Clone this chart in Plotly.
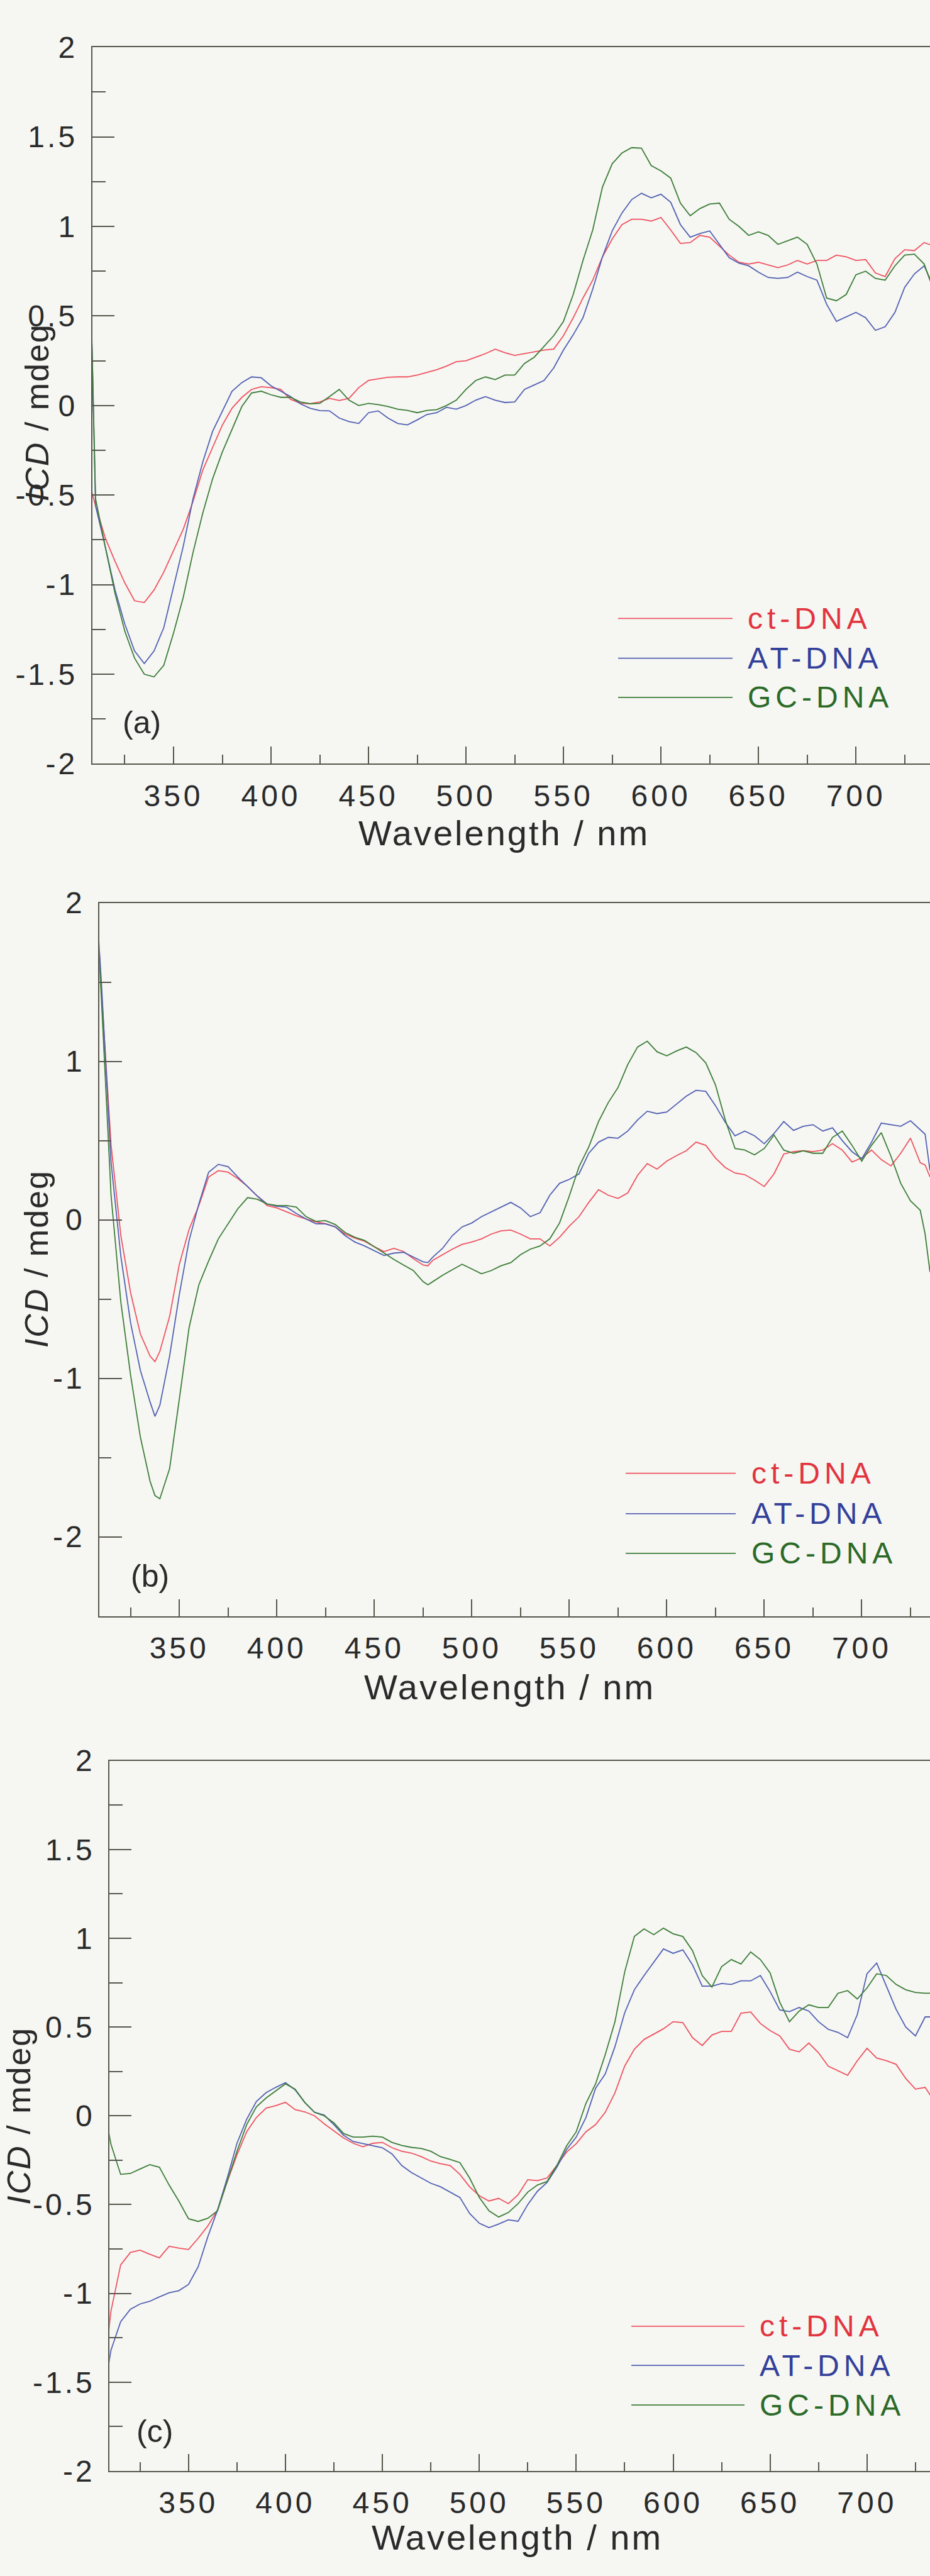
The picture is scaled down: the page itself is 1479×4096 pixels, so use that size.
import plotly.graph_objects as go

# ---------------------------------------------------------------------------
# CD spectra (mdeg) of the complex with ct-DNA, AT-DNA and GC-DNA, panels a-c
# ---------------------------------------------------------------------------
WL_A = [308] + list(range(310, 736, 5)) + [740]
CT_A = [-0.48, -0.56, -0.74, -0.87, -0.99, -1.09, -1.10, -1.03, -0.93, -0.81,
        -0.69, -0.535, -0.36, -0.235, -0.11, -0.015, 0.045, 0.09, 0.105, 0.10,
        0.09, 0.035, 0.013, 0.01, 0.02, 0.04, 0.028, 0.04, 0.10, 0.14,
        0.15, 0.158, 0.16, 0.16, 0.17, 0.185, 0.20, 0.22, 0.245, 0.25,
        0.27, 0.29, 0.315, 0.295, 0.28, 0.29, 0.30, 0.31, 0.315, 0.39,
        0.49, 0.60, 0.70, 0.83, 0.93, 1.01, 1.04, 1.04, 1.03, 1.05,
        0.98, 0.905, 0.91, 0.95, 0.94, 0.89, 0.84, 0.80, 0.79, 0.80,
        0.785, 0.77, 0.785, 0.81, 0.79, 0.81, 0.81, 0.84, 0.83, 0.81,
        0.815, 0.74, 0.72, 0.82, 0.87, 0.865, 0.91, 0.89]
AT_A = [0.40, -0.56, -0.79, -1.03, -1.22, -1.37, -1.44, -1.37, -1.24, -1.01,
        -0.785, -0.52, -0.315, -0.145, -0.035, 0.08, 0.128, 0.16, 0.155, 0.11,
        0.08, 0.05, 0.01, -0.015, -0.028, -0.03, -0.07, -0.09, -0.10, -0.04,
        -0.03, -0.07, -0.10, -0.108, -0.08, -0.05, -0.04, -0.01, -0.02, 0.0,
        0.03, 0.05, 0.03, 0.017, 0.02, 0.09, 0.115, 0.14, 0.21, 0.31,
        0.395, 0.49, 0.65, 0.83, 0.975, 1.075, 1.15, 1.185, 1.16, 1.18,
        1.135, 1.01, 0.94, 0.96, 0.975, 0.90, 0.825, 0.795, 0.78, 0.745,
        0.715, 0.71, 0.715, 0.745, 0.72, 0.70, 0.565, 0.47, 0.495, 0.52,
        0.49, 0.42, 0.44, 0.52, 0.66, 0.735, 0.78, 0.66]
GC_A = [0.42, -0.52, -0.79, -1.05, -1.26, -1.41, -1.50, -1.515, -1.45, -1.27,
        -1.07, -0.82, -0.60, -0.41, -0.26, -0.13, -0.006, 0.07, 0.08, 0.06,
        0.046, 0.046, 0.02, 0.01, 0.012, 0.05, 0.09, 0.03, 0.0, 0.012,
        0.005, -0.005, -0.02, -0.027, -0.04, -0.027, -0.023, 0.0, 0.03, 0.09,
        0.14, 0.16, 0.145, 0.17, 0.17, 0.235, 0.27, 0.33, 0.39, 0.47,
        0.62, 0.81, 0.98, 1.22, 1.35, 1.41, 1.44, 1.437, 1.34, 1.31,
        1.27, 1.13, 1.06, 1.10, 1.125, 1.13, 1.04, 1.0, 0.95, 0.97,
        0.95, 0.90, 0.92, 0.94, 0.90, 0.79, 0.60, 0.585, 0.62, 0.73,
        0.75, 0.71, 0.70, 0.78, 0.84, 0.845, 0.79, 0.64]

WL_B = sorted(list(range(310, 736, 5)) + [308, 337.5, 477.5, 732.5])
CT_B = [1.90, 1.45, 0.47, -0.10, -0.46, -0.72, -0.86, -0.895,
        -0.83, -0.61, -0.28, -0.06, 0.09, 0.27, 0.31, 0.30, 0.26, 0.21,
        0.15, 0.09, 0.075, 0.05, 0.026, 0.005, -0.013, -0.024, -0.045, -0.09,
        -0.115, -0.135, -0.17, -0.20, -0.18, -0.20, -0.245, -0.285,
        -0.29,
        -0.255, -0.22, -0.185, -0.155, -0.14, -0.12, -0.09, -0.07, -0.065,
        -0.09, -0.12, -0.12, -0.165, -0.11, -0.04, 0.02, 0.11, 0.19, 0.155,
        0.135, 0.17, 0.28, 0.355, 0.32, 0.37, 0.405, 0.436, 0.49, 0.47,
        0.39, 0.33, 0.295, 0.285, 0.25, 0.21, 0.29, 0.415, 0.43, 0.436,
        0.43, 0.44, 0.48, 0.44, 0.365, 0.39, 0.44, 0.38, 0.34, 0.42,
        0.515, 0.36, 0.346, 0.27]
AT_B = [1.90, 1.50, 0.36, -0.23, -0.65, -0.95, -1.15, -1.24,
        -1.17, -0.86, -0.47, -0.13, 0.10, 0.30, 0.35, 0.335, 0.27, 0.21,
        0.15, 0.10, 0.085, 0.08, 0.04, 0.005, -0.025, -0.026, -0.045, -0.10,
        -0.14, -0.165, -0.195, -0.225, -0.21, -0.205, -0.235, -0.265,
        -0.27,
        -0.235, -0.18, -0.10, -0.045, -0.02, 0.02, 0.05, 0.08, 0.11,
        0.075, 0.02, 0.045, 0.155, 0.23, 0.255, 0.29, 0.42, 0.49, 0.52,
        0.515, 0.56, 0.63, 0.685, 0.67, 0.68, 0.73, 0.78, 0.817, 0.81,
        0.72, 0.615, 0.53, 0.56, 0.53, 0.48, 0.545, 0.62, 0.564, 0.59,
        0.60, 0.56, 0.58, 0.50, 0.43, 0.385, 0.49, 0.61, 0.60, 0.59,
        0.625, 0.57, 0.54, 0.31]
GC_B = [1.85, 1.40, 0.15, -0.52, -0.98, -1.37, -1.65, -1.74,
        -1.76, -1.57, -1.13, -0.68, -0.41, -0.26, -0.12, -0.025, 0.07, 0.14,
        0.13, 0.10, 0.09, 0.09, 0.08, 0.02, -0.01, -0.005, -0.03, -0.08,
        -0.11, -0.13, -0.17, -0.21, -0.25, -0.285, -0.32, -0.39,
        -0.41,
        -0.39, -0.35, -0.315, -0.28, -0.31, -0.34, -0.32, -0.29, -0.27,
        -0.22, -0.185, -0.165, -0.12, -0.02, 0.15, 0.335, 0.46, 0.62, 0.74,
        0.835, 0.98, 1.09, 1.127, 1.06, 1.035, 1.065, 1.09, 1.055, 0.99,
        0.85, 0.63, 0.45, 0.44, 0.41, 0.45, 0.535, 0.44, 0.42, 0.435,
        0.42, 0.42, 0.52, 0.56, 0.47, 0.37, 0.47, 0.55, 0.40, 0.23,
        0.12, 0.06, -0.09, -0.33]

WL_C = [309] + list(range(310, 731, 5)) + [733]
CT_C = [-1.20, -1.10, -0.84, -0.77, -0.757, -0.78, -0.80, -0.735, -0.745, -0.753,
        -0.69, -0.62, -0.53, -0.37, -0.22, -0.09, -0.01, 0.043, 0.057, 0.076,
        0.035, 0.022, 0.0, -0.045, -0.085, -0.125, -0.155, -0.175, -0.155, -0.15,
        -0.18, -0.20, -0.21, -0.23, -0.255, -0.27, -0.28, -0.33, -0.40, -0.45,
        -0.48, -0.465, -0.495, -0.445, -0.36, -0.365, -0.35, -0.28, -0.205, -0.157,
        -0.09, -0.05, 0.02, 0.13, 0.28, 0.375, 0.43, 0.46, 0.49, 0.53,
        0.525, 0.44, 0.396, 0.455, 0.475, 0.475, 0.578, 0.585, 0.52, 0.48,
        0.45, 0.375, 0.36, 0.41, 0.355, 0.28, 0.254, 0.228, 0.31, 0.38,
        0.325, 0.31, 0.29, 0.21, 0.15, 0.16, 0.11]
AT_C = [-1.39, -1.32, -1.16, -1.09, -1.06, -1.045, -1.02, -0.997, -0.985, -0.95,
        -0.85, -0.68, -0.53, -0.35, -0.155, -0.02, 0.08, 0.13, 0.16, 0.187,
        0.146, 0.075, 0.02, 0.004, -0.05, -0.11, -0.145, -0.157, -0.168, -0.18,
        -0.215, -0.28, -0.32, -0.35, -0.38, -0.40, -0.43, -0.46, -0.55, -0.605,
        -0.63, -0.61, -0.586, -0.594, -0.50, -0.425, -0.375, -0.29, -0.19, -0.12,
        -0.01, 0.155, 0.236, 0.39, 0.58, 0.71, 0.79, 0.865, 0.94, 0.915,
        0.935, 0.85, 0.73, 0.73, 0.745, 0.74, 0.76, 0.76, 0.79, 0.70,
        0.596, 0.587, 0.61, 0.59, 0.53, 0.487, 0.47, 0.44, 0.57, 0.80,
        0.86, 0.73, 0.60, 0.50, 0.45, 0.557, 0.557]
GC_C = [-0.10, -0.16, -0.33, -0.325, -0.30, -0.275, -0.29, -0.39, -0.48, -0.58,
        -0.595, -0.577, -0.535, -0.37, -0.20, -0.05, 0.05, 0.10, 0.14, 0.18,
        0.15, 0.075, 0.02, 0.0, -0.04, -0.10, -0.12, -0.12, -0.115, -0.12,
        -0.15, -0.167, -0.178, -0.184, -0.20, -0.23, -0.246, -0.264, -0.35, -0.46,
        -0.535, -0.57, -0.545, -0.495, -0.43, -0.39, -0.37, -0.28, -0.17, -0.09,
        0.07, 0.18, 0.345, 0.53, 0.81, 1.01, 1.053, 1.02, 1.057, 1.025,
        1.01, 0.93, 0.79, 0.725, 0.84, 0.88, 0.855, 0.923, 0.88, 0.805,
        0.64, 0.53, 0.59, 0.625, 0.61, 0.61, 0.69, 0.705, 0.658, 0.72,
        0.80, 0.79, 0.74, 0.71, 0.695, 0.69, 0.69]

SERIES = ["ct-DNA", "AT-DNA", "GC-DNA"]
LINE_COLORS = ["#ef5361", "#5260b2", "#3d7d38"]
TEXT_COLORS = ["#e2343f", "#33409a", "#2c6a28"]

X_TICKS = [350, 400, 450, 500, 550, 600, 650, 700]
X_MINOR = [325, 375, 425, 475, 525, 575, 625, 675, 725]
Y_TICKS_AC = [-2, -1.5, -1, -0.5, 0, 0.5, 1, 1.5, 2]
Y_TEXT_AC = ["-2", "-1.5", "-1", "-0.5", "0", "0.5", "1", "1.5", "2"]
Y_MINOR_AC = [-1.75, -1.25, -0.75, -0.25, 0.25, 0.75, 1.25, 1.75]
Y_TICKS_B = [-2, -1, 0, 1, 2]
Y_TEXT_B = ["-2", "-1", "0", "1", "2"]
Y_MINOR_B = [-1.5, -0.5, 0.5, 1.5]

W, H = 1479, 4096
FONT = "Liberation Sans, Arial, Helvetica, sans-serif"
AXC = "#56564c"
TXT = "#2a2a2a"
BG = "#f6f7f3"


def spaced(text, px):
    return f'<span style="letter-spacing:{px}px">{text}</span>'


def px_x(p):
    return p / W


def px_y(p):
    return 1 - p / H


panels = [
    dict(wl=WL_A, ys=(CT_A, AT_A, GC_A), left=146.7, top=49.9, bottom=1204,
         xr=[308.3, 738], yr=[-2, 2], yt=(Y_TICKS_AC, Y_TEXT_AC, Y_MINOR_AC),
         tag="(a)", tagpos=(225, 1138), xt=(801, 1316), yt_pos=(58.5, 638),
         leg=(983, 1165, [970, 1034, 1097], 1187)),
    dict(wl=WL_B, ys=(CT_B, AT_B, GC_B), left=158.4, top=1428, bottom=2577,
         xr=[309.1, 735], yr=[-2.5, 2], yt=(Y_TICKS_B, Y_TEXT_B, Y_MINOR_B),
         tag="(b)", tagpos=(238, 2513), xt=(811, 2691), yt_pos=(58, 2002),
         leg=(995, 1170, [2347, 2412, 2476], 1193)),
    dict(wl=WL_C, ys=(CT_C, AT_C, GC_C), left=174.3, top=2810, bottom=3954,
         xr=[309.3, 732.5], yr=[-2, 2], yt=(Y_TICKS_AC, Y_TEXT_AC, Y_MINOR_AC),
         tag="(c)", tagpos=(246, 3890), xt=(822, 4061), yt_pos=(30.5, 3382),
         leg=(1004, 1184, [3721, 3784, 3848], 1206)),
]

fig = go.Figure()
annotations = []
shapes = []
layout_axes = {}

for i, p in enumerate(panels, start=1):
    xa = "x" if i == 1 else f"x{i}"
    ya = "y" if i == 1 else f"y{i}"
    for name, vals, col in zip(SERIES, p["ys"], LINE_COLORS):
        assert len(vals) == len(p["wl"])
        fig.add_trace(go.Scatter(x=p["wl"], y=vals, mode="lines", name=name,
                                 line=dict(color=col, width=1.8),
                                 xaxis=xa, yaxis=ya, showlegend=False,
                                 hoverinfo="skip"))
    ytv, ytt, ymin = p["yt"]
    layout_axes["xaxis" if i == 1 else f"xaxis{i}"] = dict(
        domain=[px_x(p["left"]), 1], range=p["xr"], anchor=ya,
        showline=True, linecolor=AXC, linewidth=2, mirror=True,
        ticks="inside", ticklen=27, tickwidth=2, tickcolor=AXC,
        tickvals=X_TICKS, ticktext=[spaced(str(v), 5) for v in X_TICKS],
        minor=dict(tickvals=X_MINOR, ticks="inside", ticklen=14,
                   tickwidth=2, tickcolor=AXC, showgrid=False),
        showgrid=False, zeroline=False, ticklabelstandoff=8,
        tickfont=dict(family=FONT, size=48, color=TXT))
    layout_axes["yaxis" if i == 1 else f"yaxis{i}"] = dict(
        domain=[px_y(p["bottom"]), px_y(p["top"])], range=p["yr"], anchor=xa,
        showline=True, linecolor=AXC, linewidth=2, mirror=False,
        ticks="inside", ticklen=35 if i != 2 else 36, tickwidth=2,
        tickcolor=AXC, tickvals=ytv, ticktext=[spaced(t, 4) for t in ytt],
        minor=dict(tickvals=ymin, ticks="inside", ticklen=21 if i != 2 else 19,
                   tickwidth=2, tickcolor=AXC, showgrid=False),
        showgrid=False, zeroline=False, ticklabelstandoff=12,
        tickfont=dict(family=FONT, size=48, color=TXT))

    # panel tag
    annotations.append(dict(text=p["tag"], x=px_x(p["tagpos"][0]),
                            y=px_y(p["tagpos"][1]), xref="paper", yref="paper",
                            showarrow=False, xanchor="center", yanchor="middle",
                            font=dict(family=FONT, size=50, color=TXT)))
    # axis titles
    annotations.append(dict(text=spaced("Wavelength / nm", 3),
                            x=px_x(p["xt"][0]), y=px_y(p["xt"][1]),
                            xref="paper", yref="paper", showarrow=False,
                            xanchor="center", yanchor="middle",
                            font=dict(family=FONT, size=56, color=TXT)))
    annotations.append(dict(text=spaced("<i>ICD</i> / mdeg", 2),
                            x=px_x(p["yt_pos"][0]), y=px_y(p["yt_pos"][1]),
                            xref="paper", yref="paper", showarrow=False,
                            textangle=-90, xanchor="center", yanchor="middle",
                            font=dict(family=FONT, size=52, color=TXT)))
    # legend
    lx0, lx1, lys, tx = p["leg"]
    for name, ly, lc, tc in zip(SERIES, lys, LINE_COLORS, TEXT_COLORS):
        shapes.append(dict(type="line", xref="paper", yref="paper",
                           x0=px_x(lx0), x1=px_x(lx1), y0=px_y(ly), y1=px_y(ly),
                           line=dict(color=lc, width=1.8)))
        annotations.append(dict(text=spaced(name, 7), x=px_x(tx), y=px_y(ly),
                                xref="paper", yref="paper", showarrow=False,
                                xanchor="left", yanchor="middle",
                                font=dict(family=FONT, size=48, color=tc)))

fig.update_layout(width=W, height=H, margin=dict(l=0, r=0, t=0, b=0),
                  paper_bgcolor=BG, plot_bgcolor=BG, showlegend=False,
                  annotations=annotations, shapes=shapes, **layout_axes)

fig.write_html("out.html")
